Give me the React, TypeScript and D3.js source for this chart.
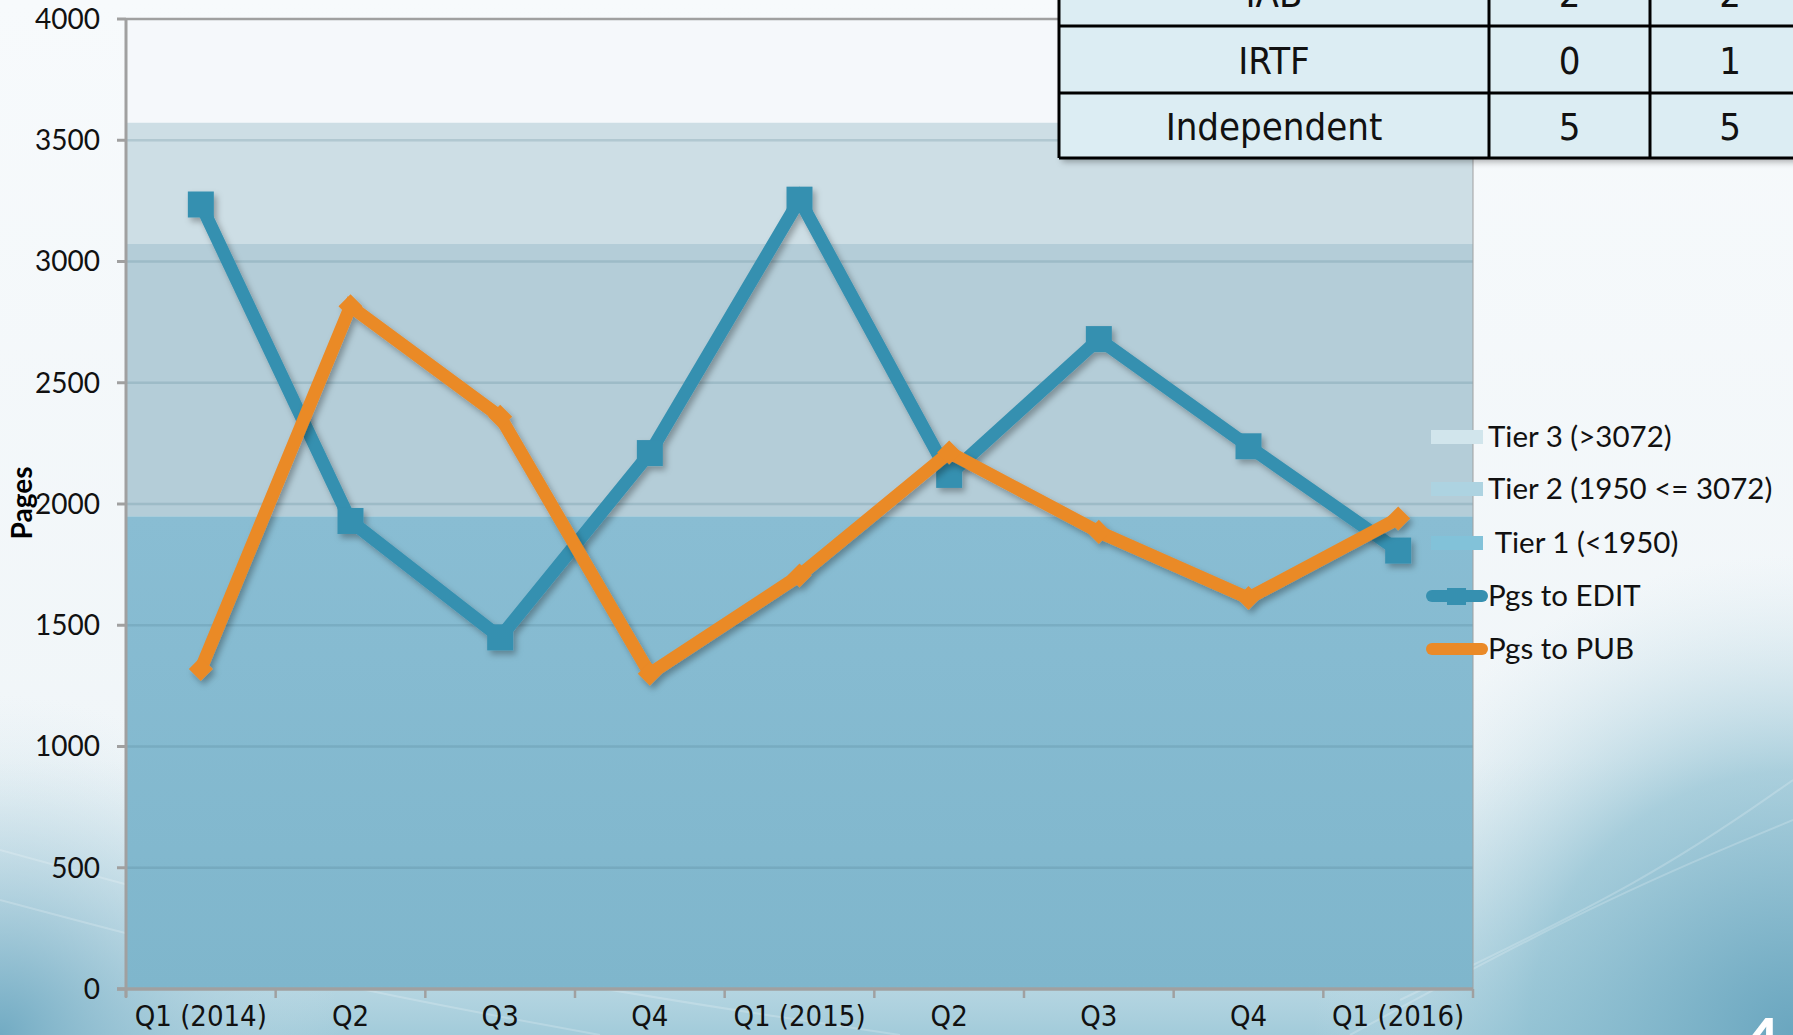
import * as d3 from 'd3';
import { useEffect, useRef } from 'react';

// chart values
const quarters = ['Q1 (2014)', 'Q2', 'Q3', 'Q4', 'Q1 (2015)', 'Q2', 'Q3', 'Q4', 'Q1 (2016)'];
const pgsToEdit = [3235, 1930, 1450, 2210, 3255, 2120, 2680, 2238, 1808];
const pgsToPub = [1320, 2815, 2360, 1300, 1705, 2212, 1885, 1612, 1940];
const tierKeys = ['tier1', 'tier2', 'tier3'];
const tierValues = [1950, 1122, 500];
const tierLabels = [' Tier 1 (<1950)', 'Tier 2 (1950 <= 3072)', 'Tier 3 (>3072)'];
const yTicks = [0, 500, 1000, 1500, 2000, 2500, 3000, 3500, 4000];

// table in the top right corner
const tableRows = ['IAB', 'IRTF', 'Independent'];
const tableColA = ['2', '0', '5'];
const tableColB = ['2', '1', '5'];

const W = 1793;
const H = 1035;
const margin = { left: 126, right: 320, top: 19, bottom: 46 };
const FONT = "Lato, 'Open Sans', sans-serif";
const NARROW = "'DejaVu Sans Condensed', 'Liberation Sans Narrow', 'Roboto Condensed', Lato, sans-serif";

const tierFill = ['#87bbd2', '#b4cdd8', '#cddee5'];
const tierSwatch = ['#82c2d9', '#add3e1', '#d1e5ec'];
const EDIT = '#3690b0';
const PUB = '#ea8a28';

const App = () => {
    const svgRef = useRef<SVGSVGElement>(null);

    useEffect(() => {
        const svg = d3.select(svgRef.current);
        const plotW = W - margin.left - margin.right;
        const plotB = H - margin.bottom;
        const x = d3.scaleBand<number>().domain(d3.range(quarters.length)).range([margin.left, margin.left + plotW]);
        const xEdge = d3.scaleLinear().domain([0, quarters.length - 1]).range([margin.left, margin.left + plotW]);
        const y = d3.scaleLinear().domain([0, 4000]).range([plotB, margin.top]);
        const cx = (i: number) => (x(i) as number) + x.bandwidth() / 2;

        const defs = svg.append('defs');
        const bg = defs.append('linearGradient').attr('id', 'bg').attr('x1', 0).attr('y1', 0).attr('x2', 0).attr('y2', 1);
        bg.append('stop').attr('offset', '0%').attr('stop-color', '#f7fafc');
        bg.append('stop').attr('offset', '100%').attr('stop-color', '#eef4f7');
        const low = defs.append('linearGradient').attr('id', 'low').attr('gradientUnits', 'userSpaceOnUse')
            .attr('x1', 0).attr('y1', 760).attr('x2', 0).attr('y2', 1035);
        low.append('stop').attr('offset', '0%').attr('stop-color', '#cfe4ec').attr('stop-opacity', 0);
        low.append('stop').attr('offset', '100%').attr('stop-color', '#a2cbda').attr('stop-opacity', 1);
        const br = defs.append('radialGradient').attr('id', 'br').attr('gradientUnits', 'userSpaceOnUse')
            .attr('cx', 1793).attr('cy', 1035).attr('r', 480);
        br.append('stop').attr('offset', '0%').attr('stop-color', '#6aa6bf').attr('stop-opacity', 1);
        br.append('stop').attr('offset', '55%').attr('stop-color', '#8dbfd1').attr('stop-opacity', 0.7);
        br.append('stop').attr('offset', '100%').attr('stop-color', '#cfe4ec').attr('stop-opacity', 0);
        const bl = defs.append('radialGradient').attr('id', 'bl').attr('gradientUnits', 'userSpaceOnUse')
            .attr('cx', 0).attr('cy', 1035).attr('r', 340);
        bl.append('stop').attr('offset', '0%').attr('stop-color', '#72abc3').attr('stop-opacity', 1);
        bl.append('stop').attr('offset', '100%').attr('stop-color', '#cfe4ec').attr('stop-opacity', 0);
        const t1 = defs.append('linearGradient').attr('id', 't1').attr('x1', 0).attr('y1', 0).attr('x2', 0).attr('y2', 1);
        t1.append('stop').attr('offset', '0%').attr('stop-color', '#89bdd3');
        t1.append('stop').attr('offset', '100%').attr('stop-color', '#7fb6cc');
        const sh = defs.append('filter').attr('id', 'shadow').attr('x', '-10%').attr('y', '-10%').attr('width', '120%').attr('height', '120%');
        sh.append('feDropShadow').attr('dx', 3).attr('dy', 4).attr('stdDeviation', 3).attr('flood-color', '#000').attr('flood-opacity', 0.3);

        // slide background
        svg.append('rect').attr('width', W).attr('height', H).attr('fill', 'url(#bg)');
        svg.append('rect').attr('width', W).attr('height', H).attr('fill', 'url(#low)');
        svg.append('rect').attr('width', W).attr('height', H).attr('fill', 'url(#br)');
        svg.append('rect').attr('width', W).attr('height', H).attr('fill', 'url(#bl)');
        const swoosh = d3.line().curve(d3.curveBasis);
        [[[0, 850], [400, 960], [900, 1035]], [[0, 900], [300, 980], [600, 1035]], [[1350, 1035], [1600, 900], [W, 820]], [[1400, 1000], [1650, 880], [W, 780]]]
            .forEach(pts => {
                svg.append('path').attr('d', swoosh(pts as [number, number][]))
                    .attr('fill', 'none').attr('stroke', '#fff').attr('stroke-opacity', 0.2).attr('stroke-width', 2);
            });

        // plot background above the tiers
        svg.append('rect').attr('x', margin.left).attr('y', margin.top).attr('width', plotW).attr('height', plotB - margin.top).attr('fill', '#f5f8fb');

        // stacked tier areas
        const rows = quarters.map(() => Object.fromEntries(tierKeys.map((k, i) => [k, tierValues[i]])));
        const stacked = d3.stack<any>().keys(tierKeys)(rows);
        const area = d3.area<any>().x((_, i) => xEdge(i)).y0(d => y(d[0])).y1(d => y(d[1]));
        svg.selectAll('path.tier').data(stacked).enter().append('path')
            .attr('class', 'tier').attr('d', area)
            .attr('fill', (_, i) => (i === 0 ? 'url(#t1)' : tierFill[i]));

        // gridlines
        svg.selectAll('line.grid').data(yTicks.slice(1, -1)).enter().append('line')
            .attr('x1', margin.left).attr('x2', margin.left + plotW)
            .attr('y1', d => y(d)).attr('y2', d => y(d))
            .attr('stroke', '#4c7a8e').attr('stroke-opacity', 0.22).attr('stroke-width', 2.5);
        svg.append('line').attr('x1', margin.left).attr('x2', margin.left + plotW).attr('y1', y(4000)).attr('y2', y(4000))
            .attr('stroke', '#a0a0a0').attr('stroke-width', 2.5);
        svg.append('line').attr('x1', margin.left + plotW).attr('x2', margin.left + plotW).attr('y1', margin.top).attr('y2', plotB)
            .attr('stroke', '#a0a0a0').attr('stroke-width', 1);

        // y axis
        svg.append('line').attr('x1', margin.left).attr('x2', margin.left).attr('y1', margin.top).attr('y2', plotB + 8)
            .attr('stroke', '#a0a0a0').attr('stroke-width', 3);
        svg.selectAll('line.ytick').data(yTicks).enter().append('line')
            .attr('x1', margin.left - 9).attr('x2', margin.left)
            .attr('y1', d => y(d)).attr('y2', d => y(d))
            .attr('stroke', '#a0a0a0').attr('stroke-width', 3);
        svg.selectAll('text.ylab').data(yTicks).enter().append('text')
            .attr('x', 100).attr('y', d => y(d)).attr('dy', '0.35em')
            .attr('text-anchor', 'end').attr('font-family', FONT).attr('font-size', 28).attr('fill', '#111')
            .text(d => d);
        svg.append('text').attr('transform', `translate(32,${y(2000) - 1}) rotate(-90)`)
            .attr('text-anchor', 'middle').attr('font-family', FONT).attr('font-weight', 'bold').attr('font-size', 28).attr('fill', '#000')
            .text('Pages');

        // x axis
        svg.append('line').attr('x1', margin.left - 9).attr('x2', margin.left + plotW).attr('y1', plotB).attr('y2', plotB)
            .attr('stroke', '#a0a0a0').attr('stroke-width', 3.5);
        svg.selectAll('line.xtick').data(d3.range(quarters.length + 1)).enter().append('line')
            .attr('x1', i => margin.left + i * x.bandwidth()).attr('x2', i => margin.left + i * x.bandwidth())
            .attr('y1', plotB).attr('y2', plotB + 9)
            .attr('stroke', '#a0a0a0').attr('stroke-width', 2.5);
        svg.selectAll('text.xlab').data(quarters).enter().append('text')
            .attr('x', (_, i) => cx(i)).attr('y', plotB + 27).attr('dy', '0.35em')
            .attr('text-anchor', 'middle').attr('font-family', NARROW).attr('font-size', 29).attr('fill', '#111')
            .text(d => d);

        // series lines
        const line = d3.line<number>().x((_, i) => cx(i)).y(d => y(d));
        const gEdit = svg.append('g').attr('filter', 'url(#shadow)');
        gEdit.append('path').attr('d', line(pgsToEdit)).attr('fill', 'none').attr('stroke', EDIT).attr('stroke-width', 13).attr('stroke-linejoin', 'miter');
        gEdit.selectAll('rect').data(pgsToEdit).enter().append('rect')
            .attr('x', (_, i) => cx(i) - 13).attr('y', d => y(d) - 13).attr('width', 26).attr('height', 26).attr('fill', EDIT);
        const gPub = svg.append('g').attr('filter', 'url(#shadow)');
        gPub.append('path').attr('d', line(pgsToPub)).attr('fill', 'none').attr('stroke', PUB).attr('stroke-width', 13).attr('stroke-linejoin', 'miter');
        gPub.selectAll('rect').data(pgsToPub).enter().append('rect')
            .attr('x', -8.5).attr('y', -8.5).attr('width', 17).attr('height', 17).attr('fill', PUB)
            .attr('transform', (d, i) => `translate(${cx(i)},${y(d)}) rotate(45)`);

        // legend
        const lg = svg.append('g').attr('font-family', FONT).attr('font-size', 29.5).attr('fill', '#111');
        const legendY = [543, 489, 437];
        tierLabels.forEach((t, i) => {
            lg.append('rect').attr('x', 1431).attr('y', legendY[i] - 7).attr('width', 52).attr('height', 14).attr('fill', tierSwatch[i]);
            lg.append('text').attr('x', 1488).attr('y', legendY[i]).attr('dy', '0.35em')
                .attr('xml:space', 'preserve').style('white-space', 'pre').text(t);
        });
        lg.append('line').attr('x1', 1432).attr('x2', 1482).attr('y1', 596).attr('y2', 596)
            .attr('stroke', EDIT).attr('stroke-width', 12).attr('stroke-linecap', 'round');
        lg.append('rect').attr('x', 1447).attr('y', 588).attr('width', 19).attr('height', 17).attr('fill', EDIT);
        lg.append('text').attr('x', 1488).attr('y', 596).attr('dy', '0.35em').text('Pgs to EDIT');
        lg.append('line').attr('x1', 1432).attr('x2', 1482).attr('y1', 649).attr('y2', 649)
            .attr('stroke', PUB).attr('stroke-width', 12).attr('stroke-linecap', 'round');
        lg.append('rect').attr('x', -4).attr('y', -4).attr('width', 8).attr('height', 8).attr('fill', PUB)
            .attr('transform', 'translate(1457,649) rotate(45)');
        lg.append('text').attr('x', 1488).attr('y', 649).attr('dy', '0.35em').text('Pgs to PUB');

        // table
        const colX = [1059, 1489, 1650, 1810];
        const rowY = [-40, 26, 93, 158];
        const tb = svg.append('g');
        tb.append('rect').attr('x', colX[0]).attr('y', rowY[0]).attr('width', colX[3] - colX[0]).attr('height', rowY[3] - rowY[0])
            .attr('fill', '#dcedf3').attr('filter', 'url(#shadow)');
        rowY.slice(1).forEach(r => {
            tb.append('line').attr('x1', colX[0]).attr('x2', colX[3]).attr('y1', r).attr('y2', r).attr('stroke', '#000').attr('stroke-width', 3);
        });
        colX.slice(0, 3).forEach(c => {
            tb.append('line').attr('x1', c).attr('x2', c).attr('y1', rowY[0]).attr('y2', rowY[3]).attr('stroke', '#000').attr('stroke-width', 3);
        });
        const cols = [tableRows, tableColA, tableColB];
        cols.forEach((col, ci) => {
            col.forEach((v, ri) => {
                tb.append('text').attr('x', (colX[ci] + colX[ci + 1]) / 2).attr('y', (rowY[ri] + rowY[ri + 1]) / 2 + 1)
                    .attr('dy', '0.35em').attr('text-anchor', 'middle')
                    .attr('font-family', NARROW).attr('font-size', 38).attr('fill', '#111').text(v);
            });
        });

        // slide number
        svg.append('text').attr('x', 1762).attr('y', 1062).attr('text-anchor', 'middle')
            .attr('font-family', FONT).attr('font-weight', 'bold').attr('font-size', 62).attr('fill', '#fff').text('4');

        return () => {
            svg.selectAll('*').remove();
        };
    }, []);

    return (
        <svg ref={svgRef} width={W} height={H} style={{ position: 'absolute', left: 0, top: 0 }}></svg>
    );
};

export default App;
